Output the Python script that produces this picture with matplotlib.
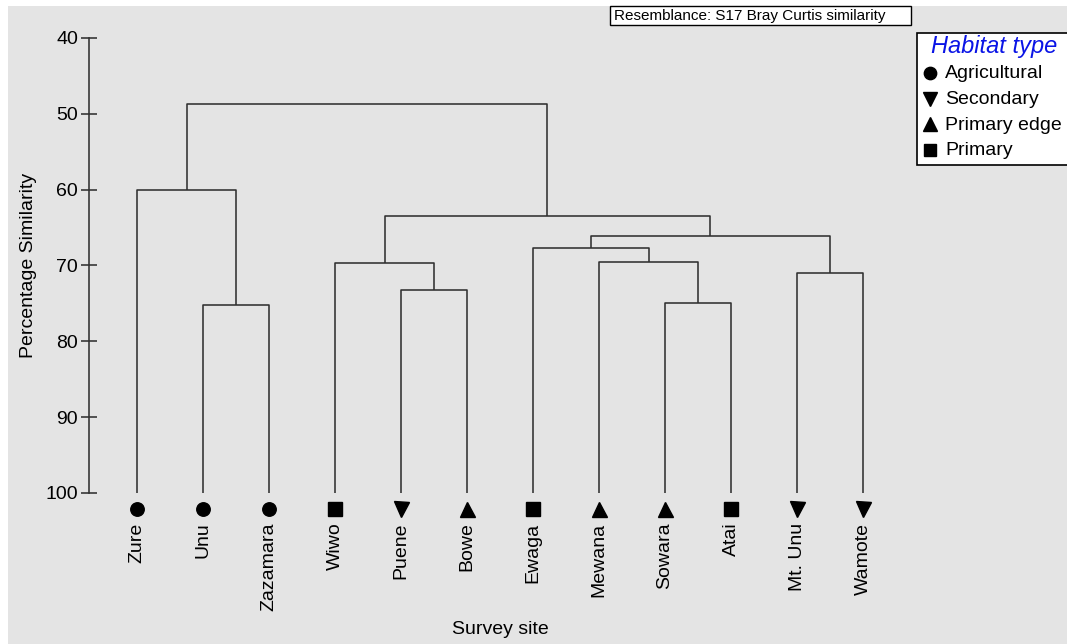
import matplotlib
matplotlib.use("Agg")
import matplotlib.pyplot as plt
from matplotlib.patches import Rectangle
from matplotlib.lines import Line2D

plt.rcParams["font.family"] = ["Liberation Sans", "DejaVu Sans"]

# Survey sites in dendrogram leaf order and their habitat
sites = ["Zure", "Unu", "Zazamara", "Wiwo", "Puene", "Bowe", "Ewaga",
         "Mewana", "Sowara", "Atai", "Mt. Unu", "Wamote"]
habitat = ["Agricultural", "Agricultural", "Agricultural", "Primary",
           "Secondary", "Primary edge", "Primary", "Primary edge",
           "Primary edge", "Primary", "Secondary", "Secondary"]

# Merges: (child a, child b, similarity %); new clusters numbered from 12
merge_a = [1, 0, 4, 3, 8, 7, 6, 10, 18, 15, 13]
merge_b = [2, 12, 5, 14, 9, 16, 17, 11, 19, 20, 21]
merge_sim = [75.2, 60.0, 73.2, 69.7, 74.9, 69.5, 67.7, 71.0, 66.1, 63.5, 48.7]

habitat_types = ["Agricultural", "Secondary", "Primary edge", "Primary"]
habitat_markers = {"Agricultural": "o", "Secondary": "v",
                   "Primary edge": "^", "Primary": "s"}
marker_size = {"o": 9.7, "v": 10.8, "^": 10.8, "s": 9.6}

W, H = 1067, 644
BG = "#e4e4e4"
LC = "#303030"

fig = plt.figure(figsize=(W / 100, H / 100), dpi=100, facecolor="white")
fig.patches.append(Rectangle((8 / W, 0), 1, (H - 6) / H, transform=fig.transFigure,
                             facecolor=BG, edgecolor="none", zorder=-5))


def px(x, y):
    return x / W, 1 - y / H


# axes: left spine at x=89px, y=40 at 38px, y=100 at 493px
ax = fig.add_axes([89 / W, 1 - 493 / H, (900 - 89) / W, (493 - 38) / H])
ax.set_zorder(1)
ax.patch.set_visible(False)
xmin = -48 / 66
ax.set_xlim(xmin, xmin + (900 - 89) / 66)
ax.set_ylim(100, 40)

# draw dendrogram
node_x = {i: float(i) for i in range(len(sites))}
node_y = {i: 100.0 for i in range(len(sites))}
for k, (a, b, s) in enumerate(zip(merge_a, merge_b, merge_sim)):
    nid = len(sites) + k
    ax.plot([node_x[a], node_x[a], node_x[b], node_x[b]],
            [node_y[a], s, s, node_y[b]], color=LC, lw=1.15,
            solid_capstyle="butt", clip_on=False)
    node_x[nid] = (node_x[a] + node_x[b]) / 2
    node_y[nid] = s

# leaf markers and labels
for i, (site, hab) in enumerate(zip(sites, habitat)):
    m = habitat_markers[hab]
    ax.plot(i, 102.1, marker=m, color="black", ms=marker_size[m],
            ls="none", clip_on=False)
    ax.text(i, 103.9, site, rotation=90, ha="center", va="top",
            fontsize=14, clip_on=False)

for sp in ["top", "right", "bottom"]:
    ax.spines[sp].set_visible(False)
ax.spines["left"].set_color(LC)
ax.spines["left"].set_linewidth(1.15)
ax.set_xticks([])
ax.set_yticks([40, 50, 60, 70, 80, 90, 100])
ax.tick_params(axis="y", direction="inout", length=11.5, width=1.15,
               color=LC, labelsize=14, pad=2)

fig.text(*px(29, 265), "Percentage Similarity", rotation=90, ha="center",
         va="center", fontsize=14)
fig.text(*px(500, 630), "Survey site", ha="center", va="center", fontsize=14)

# resemblance box
fig.patches.append(Rectangle(px(610, 25), (911 - 610) / W, 19 / H,
                             transform=fig.transFigure, facecolor="white",
                             edgecolor="black", lw=1, zorder=2))
fig.text(*px(614, 16), "Resemblance: S17 Bray Curtis similarity",
         ha="left", va="center", fontsize=11, zorder=3)

# legend box
fig.patches.append(Rectangle(px(917, 165), (W + 5 - 917) / W, (165 - 33) / H,
                             transform=fig.transFigure, facecolor="white",
                             edgecolor="black", lw=1.2, zorder=2))
fig.text(*px(994, 47), "Habitat type", ha="center", va="center",
         fontsize=17, style="italic", color="#0a14e6", zorder=3)
for j, hab in enumerate(habitat_types):
    yy = 74 + j * 25.5
    m = habitat_markers[hab]
    fig.add_artist(Line2D([930 / W], [1 - (yy - 1) / H], marker=m,
                          color="black", ms=marker_size[m] - 0.8, ls="none",
                          transform=fig.transFigure, zorder=3))
    fig.text(*px(945, yy), hab, ha="left", va="center", fontsize=14, zorder=3)

fig.savefig("out.png", dpi=100, facecolor="white")
